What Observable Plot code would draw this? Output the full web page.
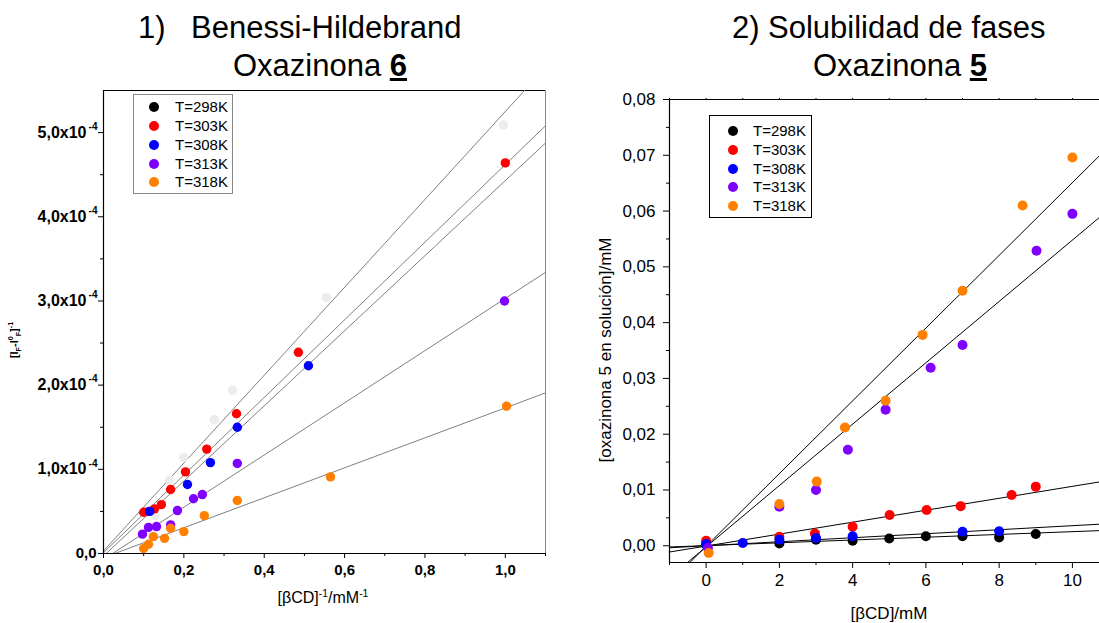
<!DOCTYPE html>
<html><head><meta charset="utf-8">
<script src="https://cdn.jsdelivr.net/npm/d3@7"></script>
<script src="https://cdn.jsdelivr.net/npm/@observablehq/plot@0.6"></script>
<style>
body{margin:0;background:#fff;font-family:"Liberation Sans",Arial,sans-serif;}
#root{position:relative;width:1099px;height:623px;overflow:hidden;background:#fff;}
.abs{position:absolute;white-space:nowrap;line-height:1;}
.title{font-size:31px;color:#000;}
.lg{position:absolute;box-sizing:border-box;background:#fff;}
.lg .row{position:absolute;font-size:15px;line-height:1;}
.lg .mk{position:absolute;width:10px;height:10px;border-radius:50%;}
sub,sup{font-size:65%;line-height:0;}
</style></head><body><div id="root"></div>
<script>
// ---------- shared ----------
const series = ["T=298K", "T=303K", "T=308K", "T=313K", "T=318K"];
const seriesColors = ["#000000", "#ff0000", "#0000ff", "#8000ff", "#ff8000"];
const bhPointColors = ["#ececec", "#ff0000", "#0000ff", "#8000ff", "#ff8000"];

// ---------- panel 1: Benesi-Hildebrand (x = [βCD]^-1 /mM^-1, y = [IF-I0F]^-1) ----------
const bh298x = [0.995, 0.555, 0.321, 0.276, 0.200, 0.164, 0.129];
const bh298y = [5.09e-4, 3.04e-4, 1.94e-4, 1.59e-4, 1.14e-4, 0.87e-4, 0.45e-4];
const bh303x = [1.000, 0.485, 0.331, 0.257, 0.204, 0.167, 0.144, 0.127, 0.113, 0.100];
const bh303y = [4.64e-4, 2.39e-4, 1.66e-4, 1.24e-4, 0.97e-4, 0.76e-4, 0.58e-4, 0.53e-4, 0.50e-4, 0.49e-4];
const bh308x = [0.510, 0.333, 0.266, 0.209, 0.115];
const bh308y = [2.23e-4, 1.50e-4, 1.08e-4, 0.82e-4, 0.50e-4];
const bh313x = [0.998, 0.333, 0.246, 0.224, 0.184, 0.167, 0.132, 0.112, 0.097];
const bh313y = [3.00e-4, 1.07e-4, 0.70e-4, 0.65e-4, 0.51e-4, 0.34e-4, 0.32e-4, 0.31e-4, 0.23e-4];
const bh318x = [1.003, 0.565, 0.333, 0.251, 0.200, 0.167, 0.152, 0.124, 0.112, 0.100];
const bh318y = [1.75e-4, 0.91e-4, 0.63e-4, 0.45e-4, 0.26e-4, 0.30e-4, 0.18e-4, 0.20e-4, 0.11e-4, 0.06e-4];
const bhSlopes = [5.22e-4, 4.61e-4, 4.46e-4, 3.10e-4, 1.78e-4];
const bhIntercepts = [0.03e-4, 0.01e-4, -0.03e-4, -0.07e-4, -0.05e-4];
const bhXTicks = [0, 0.2, 0.4, 0.6, 0.8, 1.0];
const bhXLabels = ["0,0", "0,2", "0,4", "0,6", "0,8", "1,0"];
const bhXMinor = [0.1, 0.3, 0.5, 0.7, 0.9, 1.1];
const bhYTicks = [0, 1e-4, 2e-4, 3e-4, 4e-4, 5e-4];
const bhYLabelBase = ["0,0", "1,0x10", "2,0x10", "3,0x10", "4,0x10", "5,0x10"];
const bhYLabelExp = ["", "-4", "-4", "-4", "-4", "-4"];
const bhYMinor = [0.5e-4, 1.5e-4, 2.5e-4, 3.5e-4, 4.5e-4];

// ---------- panel 2: phase solubility (x = [βCD]/mM, y = [oxazinona 5]/mM) ----------
const ps298x = [0, 2, 3, 4, 5, 6, 7, 8, 9];
const ps298y = [0.0002, 0.0004, 0.0011, 0.0009, 0.0013, 0.0017, 0.0017, 0.0015, 0.0021];
const ps303x = [0, 2, 2.97, 4, 5.01, 6.02, 6.95, 8.34, 9];
const ps303y = [0.0009, 0.0016, 0.0022, 0.0034, 0.0055, 0.0064, 0.0071, 0.0091, 0.0106];
const ps308x = [0, 1, 2, 3, 4, 7, 8];
const ps308y = [0.0003, 0.0005, 0.0011, 0.0014, 0.0017, 0.0025, 0.0026];
const ps313x = [0.05, 2, 3, 3.87, 4.9, 6.13, 7, 9.02, 10];
const ps313y = [-0.0004, 0.0070, 0.0100, 0.0172, 0.0244, 0.0319, 0.0360, 0.0529, 0.0595];
const ps318x = [0.07, 2, 3.02, 3.79, 4.9, 5.91, 7, 8.64, 10];
const ps318y = [-0.0013, 0.0075, 0.0115, 0.0212, 0.0260, 0.0378, 0.0457, 0.0610, 0.0696];
const psSlopes = [0.00025, 0.00107, 0.00036, 0.0055, 0.00652];
const psIntercepts = [0.00003, -0.00005, 0.0, -0.0002, -0.0001];
const psXTicks = [0, 2, 4, 6, 8, 10];
const psXLabels = ["0", "2", "4", "6", "8", "10"];
const psXMinor = [-1, 1, 3, 5, 7, 9];
const psYTicks = [0, 0.01, 0.02, 0.03, 0.04, 0.05, 0.06, 0.07, 0.08];
const psYLabels = ["0,00", "0,01", "0,02", "0,03", "0,04", "0,05", "0,06", "0,07", "0,08"];
const psYMinor = [0.005, 0.015, 0.025, 0.035, 0.045, 0.055, 0.065, 0.075];

// ---------- build tables ----------
function points(xs, ys, colors) {
  const out = [];
  xs.forEach((xa, s) => xa.forEach((x, i) => out.push({x, y: ys[s][i], color: colors[s], s})));
  return out;
}
const bhPoints = points([bh298x, bh303x, bh308x, bh313x, bh318x], [bh298y, bh303y, bh308y, bh313y, bh318y], bhPointColors);
const psPoints = points([ps298x, ps303x, ps308x, ps313x, ps318x], [ps298y, ps303y, ps308y, ps313y, ps318y], seriesColors);
function fits(slopes, intercepts, x0, x1) {
  return slopes.map((b, i) => ({x1: x0, y1: intercepts[i] + b * x0, x2: x1, y2: intercepts[i] + b * x1}));
}
const bhDomainX = [0, 1.1], bhDomainY = [0, 5.5e-4];
const psDomainX = [-1, 10.74], psDomainY = [-0.003, 0.08];
const bhFits = fits(bhSlopes, bhIntercepts, -0.2, 1.3);
const psFits = fits(psSlopes, psIntercepts, -2, 12);
const bhYLabelRows = bhYTicks.map((y, i) => ({y, base: bhYLabelBase[i], exp: bhYLabelExp[i]}));
const lab = (ticks, labels) => d => labels[ticks.indexOf(d)];
const font = "Liberation Sans, Arial, sans-serif";

const root = document.getElementById("root");
function place(node, left, top, w) {
  const d = document.createElement("div");
  d.className = "abs"; d.style.left = left + "px"; d.style.top = top + "px"; d.style.width = w + "px";
  d.appendChild(node); root.appendChild(d);
}

// ---------- plot 1 ----------
const p1 = Plot.plot({
  width: 560, height: 543,
  marginTop: 10, marginBottom: 70, marginLeft: 103, marginRight: 15,
  style: {fontFamily: font, background: "transparent", maxWidth: "none", overflow: "visible", color: "#000"},
  x: {domain: bhDomainX},
  y: {domain: bhDomainY},
  color: {type: "identity"},
  marks: [
    Plot.axisX({ticks: bhXTicks, tickFormat: lab(bhXTicks, bhXLabels), tickSize: 5, tickPadding: 6, fontSize: 15, fontWeight: "bold", label: null}),
    Plot.axisX({ticks: bhXMinor, tickFormat: () => "", tickSize: 3, label: null}),
    Plot.axisY({ticks: bhYTicks, tickFormat: () => "", tickSize: 5, label: null}),
    Plot.axisY({ticks: bhYMinor, tickFormat: () => "", tickSize: 3, label: null}),
    // y tick labels with superscript exponents
    Plot.text(bhYLabelRows.filter(d => d.exp === ""), {x: () => bhDomainX[0], y: "y", text: "base", textAnchor: "end", dx: -7, fontSize: 15, fontWeight: "bold", fill: "#000"}),
    Plot.text(bhYLabelRows.filter(d => d.exp !== ""), {x: () => bhDomainX[0], y: "y", text: "base", textAnchor: "end", dx: -17, fontSize: 16, fontWeight: "bold", fill: "#000"}),
    Plot.text(bhYLabelRows.filter(d => d.exp !== ""), {x: () => bhDomainX[0], y: "y", text: "exp", textAnchor: "end", dx: -6, dy: -6, fontSize: 10, fontWeight: "bold", fill: "#000"}),
    Plot.ruleY([bhDomainY[1]], {stroke: "#000"}),
    Plot.ruleX([bhDomainX[1]], {stroke: "#888"}),
    Plot.link(bhFits, {x1: "x1", y1: "y1", x2: "x2", y2: "y2", stroke: "#808080", strokeWidth: 1, clip: true}),
    Plot.dot(bhPoints, {x: "x", y: "y", fill: "color", r: 4.7, stroke: null}),
    Plot.ruleX([bhDomainX[0]], {stroke: "#000", strokeWidth: 1.2}),
    Plot.ruleY([bhDomainY[0]], {stroke: "#000", strokeWidth: 1.2})
  ]
});
place(p1, 0, 80, 560);

// ---------- plot 2 ----------
const p2 = Plot.plot({
  width: 539, height: 543,
  marginTop: 19, marginBottom: 61, marginLeft: 109, marginRight: 0,
  style: {fontFamily: font, background: "transparent", maxWidth: "none", overflow: "visible", color: "#000"},
  x: {domain: psDomainX},
  y: {domain: psDomainY},
  color: {type: "identity"},
  marks: [
    Plot.axisX({ticks: psXTicks, tickFormat: lab(psXTicks, psXLabels), tickSize: 6, tickPadding: 5, fontSize: 17, label: null}),
    Plot.axisX({ticks: psXMinor, tickFormat: () => "", tickSize: 3, label: null}),
    Plot.axisX({anchor: "top", ticks: d3.range(-1, 11), tickFormat: () => "", tickSize: 2, label: null}),
    Plot.axisY({ticks: psYTicks, tickFormat: lab(psYTicks, psYLabels), tickSize: 6, tickPadding: 8, fontSize: 17, label: null}),
    Plot.axisY({ticks: psYMinor, tickFormat: () => "", tickSize: 3, label: null}),
    Plot.ruleY([psDomainY[1]], {stroke: "#000"}),
    Plot.link(psFits, {x1: "x1", y1: "y1", x2: "x2", y2: "y2", stroke: "#000", strokeWidth: 1, clip: true}),
    Plot.dot(psPoints, {x: "x", y: "y", fill: "color", r: 5, stroke: null}),
    Plot.ruleX([psDomainX[0]], {stroke: "#000", strokeWidth: 1.2}),
    Plot.ruleY([psDomainY[0]], {stroke: "#000", strokeWidth: 1.2})
  ]
});
place(p2, 560, 80, 539);

// ---------- titles & axis labels ----------
function html(str, left, top, cls, extra) {
  const d = document.createElement("div");
  d.className = "abs " + (cls || "");
  d.style.left = left + "px"; d.style.top = top + "px";
  if (extra) Object.assign(d.style, extra);
  d.innerHTML = str; root.appendChild(d); return d;
}
html("1)", 138, 12, "title");
html("Benessi-Hildebrand", 191, 12, "title");
html("Oxazinona <b><u>6</u></b>", 320, 50, "title", {transform: "translateX(-50%)"});
html("2)", 732, 12, "title");
html("Solubilidad de fases", 768, 12, "title");
html("Oxazinona <b><u>5</u></b>", 900, 50, "title", {transform: "translateX(-50%)"});

html("[\u03B2CD]<sup>-1</sup>/mM<sup>-1</sup>", 323, 598, "", {fontSize: "16px", transform: "translate(-50%,-50%)"});
html("[I<sub>F</sub>-I<sup>0</sup><sub>F</sub>]<sup>-1</sup>", 14, 340, "", {fontSize: "11px", fontWeight: "bold", transform: "translate(-50%,-50%) rotate(-90deg)"});
html("[\u03B2CD]/mM", 889, 613, "", {fontSize: "17px", transform: "translate(-50%,-50%)"});
html("[oxazinona 5 en soluci\u00F3n]/mM", 605, 350, "", {fontSize: "17px", transform: "translate(-50%,-50%) rotate(-90deg)"});

// ---------- legends ----------
function legend(left, top, w, h, border, mkX, txtX, rowY) {
  const box = document.createElement("div");
  box.className = "lg";
  Object.assign(box.style, {left: left + "px", top: top + "px", width: w + "px", height: h + "px", border: "1px solid " + border});
  series.forEach((name, i) => {
    const m = document.createElement("div");
    m.className = "mk";
    Object.assign(m.style, {left: (mkX - 5) + "px", top: (rowY[i] - 5) + "px", background: seriesColors[i]});
    box.appendChild(m);
    const t = document.createElement("div");
    t.className = "row";
    Object.assign(t.style, {left: txtX + "px", top: (rowY[i] - 8) + "px"});
    t.textContent = name;
    box.appendChild(t);
  });
  root.appendChild(box);
}
legend(133, 94, 100, 100, "#888", 20, 41, [12, 31, 50, 69, 87]);
legend(709, 115, 103, 103, "#000", 23, 43, [15, 34, 53, 71, 90]);
</script></body></html>
